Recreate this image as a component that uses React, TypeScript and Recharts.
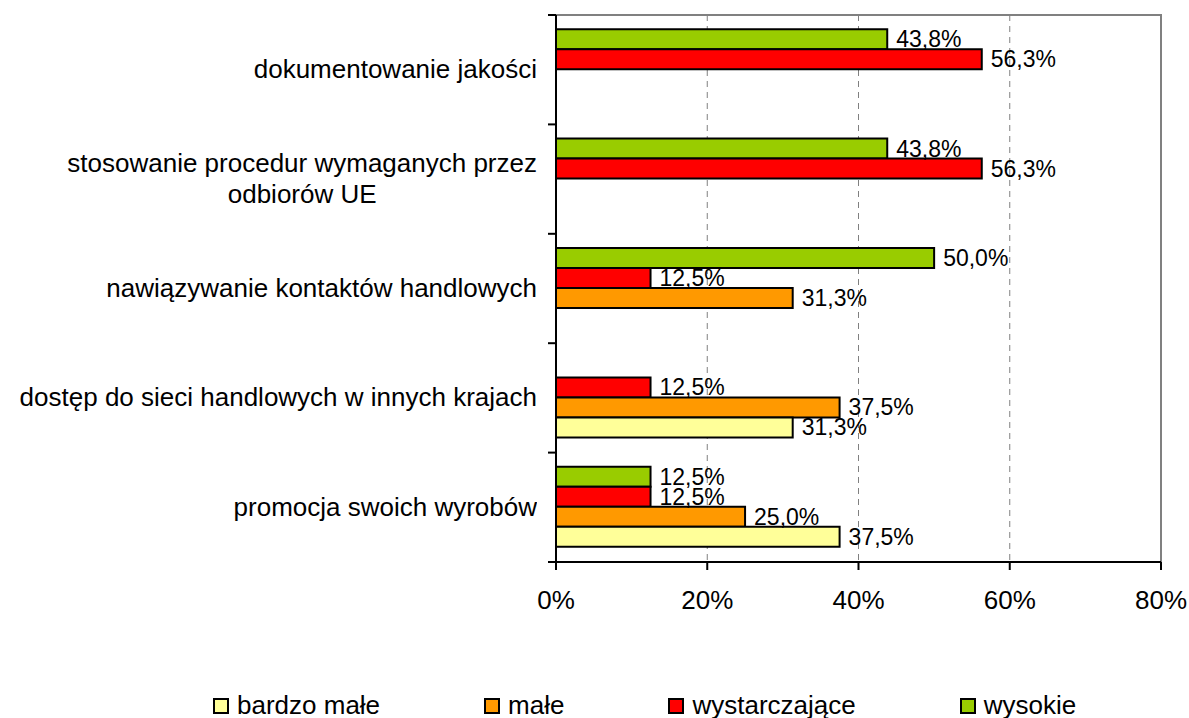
import React from 'react';
import {
  Bar,
  BarChart,
  CartesianGrid,
  LabelList,
  Legend,
  ReferenceArea,
  XAxis,
  YAxis,
} from 'recharts';

// categories from top to bottom
const categories = [
  'dokumentowanie jakości',
  'stosowanie procedur wymaganych przez\nodbiorów UE',
  'nawiązywanie kontaktów handlowych',
  'dostęp do sieci handlowych w innych krajach',
  'promocja swoich wyrobów',
];

// values in %, null = no bar
const bardzoMale = [null, null, null, 31.3, 37.5];
const male = [null, null, 31.3, 37.5, 25.0];
const wystarczajace = [56.3, 56.3, 12.5, 12.5, 12.5];
const wysokie = [43.8, 43.8, 50.0, null, 12.5];

const xTicks = [0, 20, 40, 60, 80];

const series = [
  { key: 'bardzoMale', name: 'bardzo małe', color: '#FFFF99', values: bardzoMale },
  { key: 'male', name: 'małe', color: '#FF9900', values: male },
  { key: 'wystarczajace', name: 'wystarczające', color: '#FF0000', values: wystarczajace },
  { key: 'wysokie', name: 'wysokie', color: '#99CC00', values: wysokie },
];

const data = categories.map((category, i) => {
  const row: Record<string, string | number | null> = { category };
  series.forEach((s) => {
    row[s.key] = s.values[i];
  });
  return row;
});

const FONT = '"Liberation Sans", Arial, sans-serif';
const TICK_SIZE = 8;
const TICK_MARGIN = 11;

const fmt = (v: number) => `${v.toFixed(1).replace('.', ',')}%`;

function CategoryTick(props: any) {
  const { x, y, payload, index, visibleTicksCount } = props;
  const half = payload.offset ?? 0;
  const axisX = x + TICK_MARGIN + TICK_SIZE;
  const isLast = index === visibleTicksCount - 1;
  return (
    <g>
      <line x1={axisX - TICK_SIZE} x2={axisX} y1={y - half} y2={y - half} stroke="#000" strokeWidth={2} />
      {isLast && (
        <line x1={axisX - TICK_SIZE} x2={axisX} y1={y + half} y2={y + half} stroke="#000" strokeWidth={2} />
      )}
      <foreignObject x={0} y={y - half} width={x} height={half * 2}>
        <div
          style={{
            width: '100%',
            height: '100%',
            display: 'flex',
            alignItems: 'center',
            justifyContent: 'flex-end',
            fontFamily: FONT,
            fontSize: 26,
            lineHeight: '31px',
            color: '#000',
          }}
        >
          <div style={{ textAlign: 'center', whiteSpace: 'pre' }}>{payload.value}</div>
        </div>
      </foreignObject>
    </g>
  );
}

function ValueLabel(props: any) {
  const { x, y, width, height, value } = props;
  if (value === null || value === undefined) return null;
  return (
    <text
      x={x + width + 9}
      y={y + height / 2}
      dominantBaseline="central"
      fontFamily={FONT}
      fontSize={23}
      fill="#000"
    >
      {fmt(value)}
    </text>
  );
}

function LegendContent() {
  return (
    <div style={{ display: 'flex', alignItems: 'center', gap: 104, fontFamily: FONT, fontSize: 26, color: '#000' }}>
      {series.map((s) => (
        <div key={s.key} style={{ display: 'flex', alignItems: 'center' }}>
          <span
            style={{
              display: 'inline-block',
              width: 12,
              height: 12,
              background: s.color,
              border: '2px solid #000',
              marginRight: 8,
            }}
          />
          <span>{s.name}</span>
        </div>
      ))}
    </div>
  );
}

export default function App() {
  return (
    <div>
      <style>{'body{margin:0}'}</style>
      <BarChart
        width={1189}
        height={718}
        data={data}
        layout="vertical"
        margin={{ top: 15, right: 28, left: 0, bottom: 96 }}
        barCategoryGap="13%"
        barGap={0}
      >
        <CartesianGrid horizontal={false} stroke="#808080" strokeDasharray="6 5" />
        <ReferenceArea x1={0} x2={80} fill="none" stroke="#808080" strokeWidth={2} ifOverflow="visible" />
        <XAxis
          type="number"
          domain={[0, 80]}
          ticks={xTicks}
          tickFormatter={(v) => `${v}%`}
          height={60}
          tickSize={8}
          tickMargin={21}
          axisLine={{ stroke: '#000', strokeWidth: 2 }}
          tickLine={{ stroke: '#000', strokeWidth: 2 }}
          tick={{ fill: '#000', fontSize: 26, fontFamily: FONT }}
        />
        <YAxis
          type="category"
          dataKey="category"
          width={556}
          interval={0}
          tickSize={TICK_SIZE}
          tickMargin={TICK_MARGIN}
          tickLine={false}
          axisLine={{ stroke: '#000', strokeWidth: 2 }}
          tick={<CategoryTick />}
        />
        {[...series].reverse().map((s) => (
          <Bar
            key={s.key}
            dataKey={s.key}
            name={s.name}
            fill={s.color}
            stroke="#000"
            strokeWidth={2}
            isAnimationActive={false}
          >
            <LabelList dataKey={s.key} content={<ValueLabel />} />
          </Bar>
        ))}
        <Legend
          layout="horizontal"
          verticalAlign="middle"
          content={<LegendContent />}
          wrapperStyle={{ left: 213, top: 690, width: 'auto' }}
        />
      </BarChart>
    </div>
  );
}
